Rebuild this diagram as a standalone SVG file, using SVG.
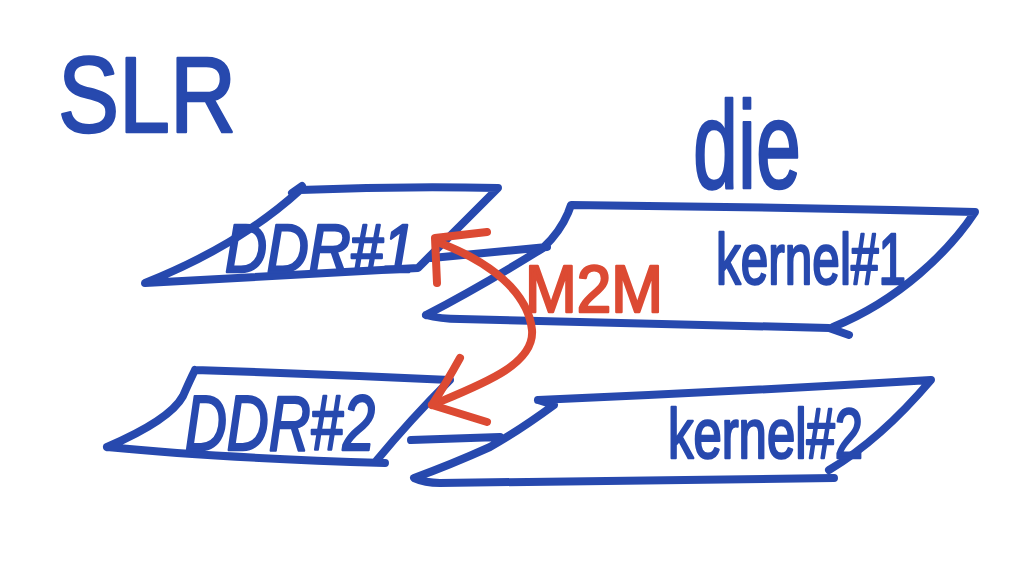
<svg xmlns="http://www.w3.org/2000/svg" width="1033" height="565" viewBox="0 0 1033 565">
<style>
.b{fill:none;stroke:#2749ae;stroke-width:8;stroke-linecap:round;stroke-linejoin:round}
.r{fill:none;stroke:#dc4a33;stroke-width:8;stroke-linecap:round;stroke-linejoin:round}
.t{font-family:"Liberation Sans",Arial,sans-serif;fill:#2749ae;stroke:#2749ae;stroke-width:2.5;stroke-linejoin:round}
.tr{font-family:"Liberation Sans",Arial,sans-serif;fill:#dc4a33;stroke:#dc4a33;stroke-width:2.5;stroke-linejoin:round}
</style>
<rect width="1033" height="565" fill="#ffffff"/>
<g id="slr-label">
<text class="t" x="58" y="132" font-size="108" textLength="178" lengthAdjust="spacingAndGlyphs">SLR</text>
</g>
<g id="die-label">
<text class="t" x="693" y="188" font-size="125" textLength="108" lengthAdjust="spacingAndGlyphs">die</text>
</g>
<g id="ddr1">
<path class="b" d="M300,190 Q400,186 498,188 L418,268 Q280,275 145,283 Q240,245 300,190 M292,193 L302,186"/>
<text class="t" x="225" y="272" font-size="68" font-style="italic" textLength="190" lengthAdjust="spacingAndGlyphs">DDR#1</text>
</g>
<g id="kernel1">
<path class="b" d="M426,315 Q480,287 543,248 Q560,232 568,213 L571,205 Q770,207 975,212 C950,250 900,300 833,327 M426,315 Q440,319 460,319 L829,328 L849,335 M432,258 L547,247"/>
<text class="t" x="716" y="284" font-size="72" textLength="190" lengthAdjust="spacingAndGlyphs">kernel#1</text>
</g>
<g id="ddr2">
<path class="b" d="M195,370 Q320,374 450,380 Q410,420 377,460 M107,447 Q220,458 385,463 M107,447 Q170,420 183,396 Q190,380 195,370"/>
<text class="t" x="185" y="450" font-size="78" font-style="italic" textLength="190" lengthAdjust="spacingAndGlyphs">DDR#2</text>
</g>
<g id="kernel2">
<path class="b" d="M538,400 Q730,392 931,380 Q880,440 829,470 M538,400 L554,405 Q520,430 490,447 Q450,465 414,478 Q425,483 440,483 L834,478 M411,440 L500,437"/>
<text class="t" x="668" y="458" font-size="70" textLength="195" lengthAdjust="spacingAndGlyphs">kernel#2</text>
</g>
<g id="connectors">
<path class="r" d="M440,243 C490,262 528,292 532,330 C535,365 480,385 432,405"/>
<path class="r" d="M487,232 L435,238 L437,283"/>
<path class="r" d="M460,358 Q445,385 432,405 L487,422"/>
<text class="tr" x="525" y="312" font-size="66" textLength="138" lengthAdjust="spacingAndGlyphs">M2M</text>
</g>
</svg>
